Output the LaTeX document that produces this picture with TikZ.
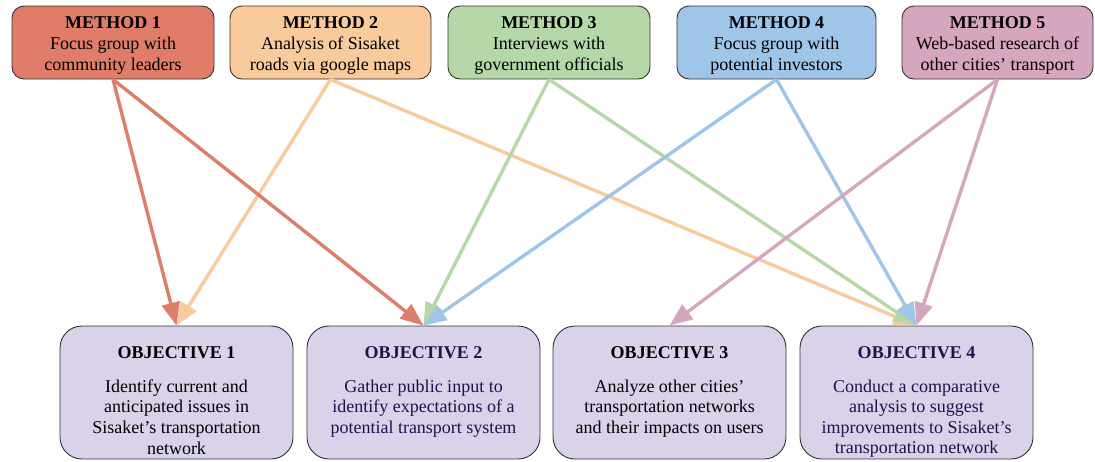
\documentclass[tikz,border=0pt]{standalone}
\usepackage{fontspec}
\setmainfont{Liberation Serif}
\usetikzlibrary{arrows.meta}
\definecolor{mone}{HTML}{E07D69}
\definecolor{mtwo}{HTML}{F9CB9C}
\definecolor{mthree}{HTML}{B6D7A8}
\definecolor{mfour}{HTML}{9FC5E8}
\definecolor{mfive}{HTML}{D5A6BD}
\definecolor{aone}{HTML}{DD7E6B}
\definecolor{atwo}{HTML}{F9CB9C}
\definecolor{athree}{HTML}{B6D7A8}
\definecolor{afour}{HTML}{9FC5E8}
\definecolor{afive}{HTML}{D5A6BD}
\definecolor{objfill}{HTML}{D9D2E9}
\definecolor{navy}{HTML}{20124D}
\definecolor{edge}{HTML}{333333}
\tikzset{
  methodbox/.style={draw=edge, line width=0.9pt, rounded corners=12pt, minimum height=73pt,
    inner sep=0pt},
  methodtext/.style={inner sep=0pt, align=center, font=\fontsize{18}{20.8}\selectfont},
  objbox/.style={draw=edge, line width=0.9pt, fill=objfill, rounded corners=22pt,
    minimum width=233pt, minimum height=133pt, inner sep=0pt},
  objtitle/.style={anchor=base, inner sep=0pt, font=\fontsize{18}{20}\selectfont\bfseries},
  objbody/.style={anchor=north, inner sep=0pt, align=center, font=\fontsize{18}{20.6}\selectfont},
  link/.style={line width=3.4pt, -{Triangle[length=23pt,width=18pt]}}
}
\begin{document}
\begin{tikzpicture}[x=1pt,y=-1pt]
\useasboundingbox (0,0) rectangle (1095,461);
% methods
\node[methodbox, fill=mone, minimum width=202pt] (m1) at (113,42.5) {};
\node[methodbox, fill=mtwo, minimum width=201pt] (m2) at (330.5,42.5) {};
\node[methodbox, fill=mthree, minimum width=202pt] (m3) at (549,42.5) {};
\node[methodbox, fill=mfour, minimum width=199pt] (m4) at (776.5,42.5) {};
\node[methodbox, fill=mfive, minimum width=191pt] (m5) at (997.5,42.5) {};
\node[methodtext] (m1t) at (113,45.5) {\textbf{METHOD 1}\\Focus group with\\community leaders};
\node[methodtext] (m2t) at (330.5,45.5) {\textbf{METHOD 2}\\Analysis of Sisaket\\roads via google maps};
\node[methodtext] (m3t) at (549,45.5) {\textbf{METHOD 3}\\Interviews with\\government officials};
\node[methodtext] (m4t) at (776.5,45.5) {\textbf{METHOD 4}\\Focus group with\\potential investors};
\node[methodtext] (m5t) at (997.5,45.5) {\textbf{METHOD 5}\\Web-based research of\\other cities' transport};
% objectives
\node[objbox] (o1) at (176.5,392.5) {};
\node[objbox] (o2) at (423.5,392.5) {};
\node[objbox] (o3) at (669.5,392.5) {};
\node[objbox] (o4) at (916.5,392.5) {};
\node[objtitle] (t1) at (176.5,358) {OBJECTIVE 1};
\node[objtitle, text=navy] (t2) at (423.5,358) {OBJECTIVE 2};
\node[objtitle] (t3) at (669.5,358) {OBJECTIVE 3};
\node[objtitle, text=navy] (t4) at (916.5,358) {OBJECTIVE 4};
\node[objbody] (b1) at (176.5,379.5) {Identify current and\\anticipated issues in\\Sisaket's transportation\\network};
\node[objbody, text=navy] (b2) at (423.5,379.5) {Gather public input to\\identify expectations of a\\potential transport system};
\node[objbody] (b3) at (669.5,379.5) {Analyze other cities'\\transportation networks\\and their impacts on users};
\node[objbody, text=navy] (b4) at (916.5,379.5) {Conduct a comparative\\analysis to suggest\\improvements to Sisaket's\\transportation network};
% connectors
\draw[link, draw=atwo, fill=atwo] (m2.south) -- (o4.north);
\draw[link, draw=athree, fill=athree] (m3.south) -- (o4.north);
\draw[link, draw=afour, fill=afour] (m4.south) -- (o4.north);
\draw[link, draw=afive, fill=afive] (m5.south) -- (o4.north);
\draw[link, draw=afive, fill=afive] (m5.south) -- (o3.north);
\draw[link, draw=aone, fill=aone] (m1.south) -- (o1.north);
\draw[link, draw=atwo, fill=atwo] (m2.south) -- (o1.north);
\draw[link, draw=aone, fill=aone] (m1.south) -- (o2.north);
\draw[link, draw=athree, fill=athree] (m3.south) -- (o2.north);
\draw[link, draw=afour, fill=afour] (m4.south) -- (o2.north);
\end{tikzpicture}
\end{document}
